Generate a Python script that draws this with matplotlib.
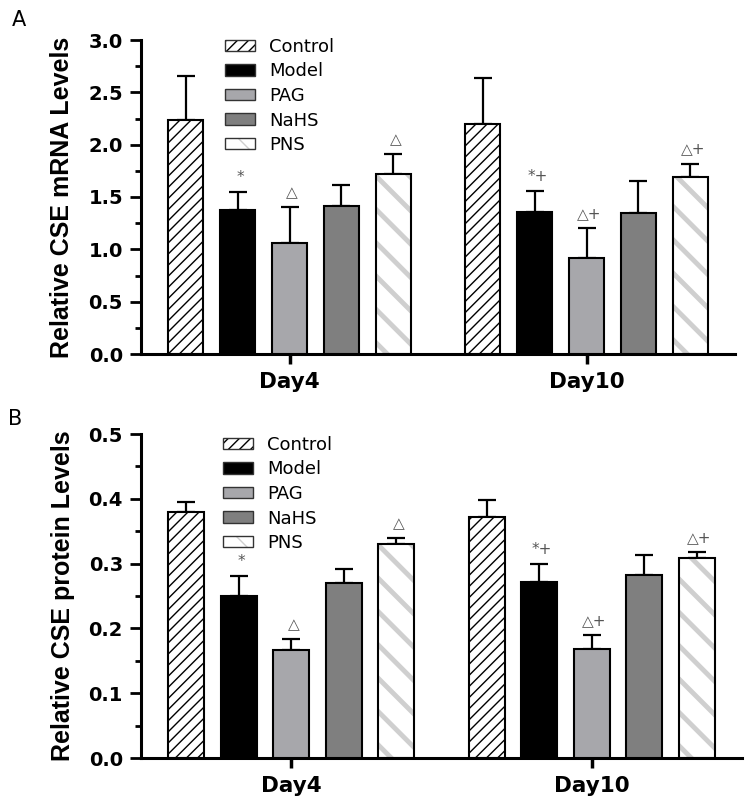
import matplotlib
matplotlib.use("Agg")
import matplotlib.pyplot as plt
import numpy as np

groups = ["Day4", "Day10"]
series = ["Control", "Model", "PAG", "NaHS", "PNS"]

# panel A: relative CSE mRNA
mrna_mean = {
    "Control": [2.24, 2.20],
    "Model":   [1.38, 1.36],
    "PAG":     [1.06, 0.92],
    "NaHS":    [1.41, 1.35],
    "PNS":     [1.72, 1.69],
}
mrna_err = {
    "Control": [0.42, 0.44],
    "Model":   [0.17, 0.20],
    "PAG":     [0.34, 0.28],
    "NaHS":    [0.20, 0.30],
    "PNS":     [0.19, 0.13],
}
mrna_marks = {
    "Model": ["*", "*+"],
    "PAG":   ["\u25b3", "\u25b3+"],
    "PNS":   ["\u25b3", "\u25b3+"],
}

# panel B: relative CSE protein
prot_mean = {
    "Control": [0.380, 0.372],
    "Model":   [0.250, 0.272],
    "PAG":     [0.166, 0.168],
    "NaHS":    [0.270, 0.283],
    "PNS":     [0.330, 0.309],
}
prot_err = {
    "Control": [0.015, 0.026],
    "Model":   [0.031, 0.028],
    "PAG":     [0.018, 0.022],
    "NaHS":    [0.022, 0.031],
    "PNS":     [0.010, 0.009],
}
prot_marks = {
    "Model": ["*", "*+"],
    "PAG":   ["\u25b3", "\u25b3+"],
    "PNS":   ["\u25b3", "\u25b3+"],
}

styles = {
    "Control": dict(face="white", hatch="///", hcolor="black", hlw=1.0),
    "Model":   dict(face="black", hatch=None, hcolor=None, hlw=None),
    "PAG":     dict(face="#a7a7ab", hatch=None, hcolor=None, hlw=None),
    "NaHS":    dict(face="#7f7f7f", hatch=None, hcolor=None, hlw=None),
    "PNS":     dict(face="white", hatch="\\", hcolor="#cfcfcf", hlw=3.5),
}

plt.rcParams["font.family"] = ["DejaVu Sans"]

step = 0.175
width = 0.12
x = np.arange(len(groups))


def draw_panel(ax, mean, err, marks, ymax, major, minor, ylabel, leg_pos):
    handles = []
    for i, name in enumerate(series):
        st = styles[name]
        pos = x + (i - 2) * step
        if st["hatch"]:
            hb = ax.bar(pos, mean[name], width, color=st["face"], edgecolor=st["hcolor"],
                        hatch=st["hatch"], linewidth=0, zorder=2)
            for p in hb:
                if hasattr(p, "set_hatch_linewidth"):
                    p.set_hatch_linewidth(st["hlw"])
        b = ax.bar(pos, mean[name], width, color="none" if st["hatch"] else st["face"],
                   edgecolor="black", linewidth=1.5, zorder=3)
        ax.errorbar(pos, mean[name], yerr=[np.zeros(len(pos)), err[name]], fmt="none",
                    ecolor="black", elinewidth=1.6, capsize=6.5, capthick=1.6, zorder=1)
        if name in marks:
            for j in range(len(pos)):
                ax.annotate(marks[name][j], (pos[j], mean[name][j] + err[name][j]),
                            xytext=(2, 5), textcoords="offset points", ha="center",
                            va="bottom", fontsize=11, color="#555555")
        # legend proxy
        if st["hatch"]:
            hp = matplotlib.patches.Patch(facecolor=st["face"], edgecolor=st["hcolor"],
                                          hatch=st["hatch"], linewidth=0)
            if hasattr(hp, "set_hatch_linewidth"):
                hp.set_hatch_linewidth(min(st["hlw"], 2.0))
            op = matplotlib.patches.Patch(facecolor="none", edgecolor="#333333", linewidth=1.0)
            handles.append((hp, op))
        else:
            handles.append(matplotlib.patches.Patch(facecolor=st["face"], edgecolor="#333333",
                                                    linewidth=1.0))

    ax.set_xlim(-0.5, 1.5)
    ax.set_ylim(0, ymax)
    ax.set_xticks(x)
    ax.set_xticklabels(groups, fontsize=15.5, fontweight="bold")
    ax.set_yticks(major)
    ax.set_yticklabels(["%.1f" % v for v in major], fontsize=14, fontweight="bold")
    ax.set_yticks(minor, minor=True)
    ax.spines["top"].set_visible(False)
    ax.spines["right"].set_visible(False)
    ax.spines["left"].set_linewidth(2.2)
    ax.spines["bottom"].set_linewidth(2.2)
    ax.tick_params(axis="y", which="major", length=8, width=2, pad=5)
    ax.tick_params(axis="y", which="minor", length=4.5, width=2)
    ax.tick_params(axis="x", which="major", length=7, width=2.5, pad=6)
    ax.set_ylabel(ylabel, fontsize=18, fontweight="bold", family="Liberation Sans", labelpad=10)
    ax.legend(handles, series, loc="upper left", bbox_to_anchor=leg_pos,
              bbox_transform=fig.transFigure, frameon=False, fontsize=13,
              handlelength=1.65, handleheight=0.6, labelspacing=0.36, handletextpad=0.8,
              borderpad=0, borderaxespad=0)


fig = plt.figure(figsize=(7.51, 8.06), dpi=100)
axA = fig.add_axes([141 / 751, 1 - 354 / 806, 594 / 751, 314 / 806])
axB = fig.add_axes([141 / 751, 1 - 758 / 806, 601 / 751, 324 / 806])

draw_panel(axA, mrna_mean, mrna_err, mrna_marks, 3.0,
           np.arange(0, 3.01, 0.5), np.arange(0.25, 3.0, 0.5),
           "Relative CSE mRNA Levels", (225 / 751, 1 - 38 / 806))
draw_panel(axB, prot_mean, prot_err, prot_marks, 0.5,
           np.arange(0, 0.501, 0.1), np.arange(0.05, 0.5, 0.1),
           "Relative CSE protein Levels", (223 / 751, 1 - 436 / 806))

fig.text(12 / 751, 1 - 26 / 806, "A", fontsize=15)
fig.text(8 / 751, 1 - 425 / 806, "B", fontsize=15)

fig.savefig("out.png", dpi=100)
